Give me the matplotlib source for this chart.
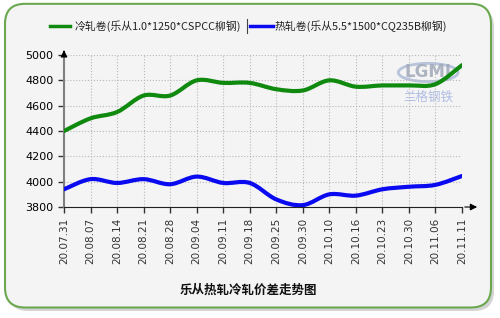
import numpy as np
import matplotlib
matplotlib.use("Agg")
import matplotlib.pyplot as plt
from matplotlib.path import Path
from matplotlib.patches import PathPatch, FancyBboxPatch, Ellipse

plt.rcParams['font.family'] = ['Noto Sans CJK SC', 'DejaVu Sans']

dates = ['20.07.31', '20.08.07', '20.08.14', '20.08.21', '20.08.28', '20.09.04',
         '20.09.11', '20.09.18', '20.09.25', '20.09.30', '20.10.10', '20.10.16',
         '20.10.23', '20.10.30', '20.11.06', '20.11.11']
cold = [4400, 4500, 4550, 4680, 4680, 4800, 4780, 4780, 4730, 4720,
        4800, 4750, 4760, 4760, 4770, 4920]
hot = [3940, 4020, 3990, 4020, 3980, 4040, 3990, 3990, 3860, 3815,
       3900, 3890, 3940, 3960, 3975, 4045]
cold_name = '冷轧卷(乐从1.0*1250*CSPCC柳钢)'
hot_name = '热轧卷(乐从5.5*1500*CQ235B柳钢)'
title = '乐从热轧冷轧价差走势图'


def smooth_path(xs, ys, t=0.5):
    # catmull-rom style bezier through the points
    xs = np.asarray(xs, float)
    ys = np.asarray(ys, float)
    verts = [(xs[0], ys[0])]
    codes = [Path.MOVETO]
    n = len(xs)
    for i in range(n - 1):
        x0, y0 = (xs[i - 1], ys[i - 1]) if i > 0 else (xs[i], ys[i])
        x3, y3 = (xs[i + 2], ys[i + 2]) if i + 2 < n else (xs[i + 1], ys[i + 1])
        x1, y1 = xs[i], ys[i]
        x2, y2 = xs[i + 1], ys[i + 1]
        c1 = (x1 + (x2 - x0) * t / 3, y1 + (y2 - y0) * t / 3)
        c2 = (x2 - (x3 - x1) * t / 3, y2 - (y3 - y1) * t / 3)
        verts += [c1, c2, (x2, y2)]
        codes += [Path.CURVE4] * 3
    return Path(verts, codes)


bg = '#f4f4f4'
fig = plt.figure(figsize=(5, 3.18), dpi=100)
fig.patch.set_facecolor('white')

# shadow + rounded frame
shadow = FancyBboxPatch((0.016, 0.022), 0.972, 0.955,
                        boxstyle="round,pad=0,rounding_size=0.04",
                        transform=fig.transFigure, facecolor='#d4d4d4',
                        edgecolor='none', zorder=-2, mutation_aspect=1.57)
fig.patches.append(shadow)
frame = FancyBboxPatch((0.01, 0.033), 0.972, 0.955,
                       boxstyle="round,pad=0,rounding_size=0.04",
                       transform=fig.transFigure, facecolor=bg,
                       edgecolor='#6aa84f', linewidth=1.5, zorder=-1,
                       mutation_aspect=1.57)
fig.patches.append(frame)

ax = fig.add_axes([0.128, 0.349, 0.796, 0.478])
ax.set_zorder(2)
ax.set_facecolor(bg)
x = np.arange(len(dates))
ax.set_xlim(0, len(dates) - 1)
ax.set_ylim(3800, 5000)

# watermark
ax.add_patch(Ellipse((0.915, 0.885), 0.15, 0.12, transform=ax.transAxes,
                     facecolor='none', edgecolor='#b8c4dc', lw=2, zorder=1))
ax.text(0.915, 0.885, 'LGMI', transform=ax.transAxes, fontsize=12,
        color='#a0a8b8', ha='center', va='center', fontweight='bold',
        family=['DejaVu Sans'], alpha=0.85, zorder=1)
ax.text(0.915, 0.72, '兰格钢铁', transform=ax.transAxes, fontsize=9,
        color='#a0b0e0', ha='center', va='center', alpha=0.8,
        style='italic', zorder=1)

ax.add_patch(PathPatch(smooth_path(x, cold), facecolor='none',
                       edgecolor='#0f8a0f', linewidth=3, capstyle='round',
                       zorder=3))
ax.add_patch(PathPatch(smooth_path(x, hot), facecolor='none',
                       edgecolor='#0a0af0', linewidth=3, capstyle='round',
                       zorder=3))

ax.set_xticks(x)
ax.set_xticklabels(dates, rotation=90, fontsize=7.5, color='#333333',
                   family=['DejaVu Sans'])
ax.set_yticks(np.arange(3800, 5001, 200))
ax.set_yticklabels([str(v) for v in range(3800, 5001, 200)], fontsize=8,
                   family=['DejaVu Sans'])
ax.grid(True, color='#b8b8b8', linestyle=':', linewidth=0.8)
ax.tick_params(axis='both', length=4, color='#333333', width=1)
for s in ['top', 'right']:
    ax.spines[s].set_visible(False)
ax.spines['left'].set_color('#808080')
ax.spines['left'].set_linewidth(1.5)
ax.spines['bottom'].set_color('#222222')

# axis arrows
ax.annotate('', xy=(0, 1.05), xytext=(0, 1.0), xycoords='axes fraction',
            arrowprops=dict(arrowstyle='-|>', color='black', lw=0.8,
                            mutation_scale=10))
ax.annotate('', xy=(1.045, 0), xytext=(1.0, 0), xycoords='axes fraction',
            arrowprops=dict(arrowstyle='-|>', color='black', lw=0.8,
                            mutation_scale=10))

# legend
fig.add_artist(plt.Line2D([0.1, 0.14], [0.918, 0.918], color='#0f8a0f',
                          lw=2.5, transform=fig.transFigure))
fig.text(0.15, 0.918, cold_name, fontsize=7.8, va='center', color='#222222')
fig.add_artist(plt.Line2D([0.493, 0.493], [0.895, 0.94], color='#444444',
                          lw=0.8, transform=fig.transFigure))
fig.add_artist(plt.Line2D([0.5, 0.545], [0.918, 0.918], color='#0a0af0',
                          lw=2.5, transform=fig.transFigure))
fig.text(0.55, 0.918, hot_name, fontsize=7.8, va='center', color='#222222')

fig.text(0.497, 0.088, title, fontsize=9, fontweight='bold', ha='center',
         va='center', color='#111111')

fig.savefig('out.png', dpi=100, facecolor=fig.get_facecolor())
